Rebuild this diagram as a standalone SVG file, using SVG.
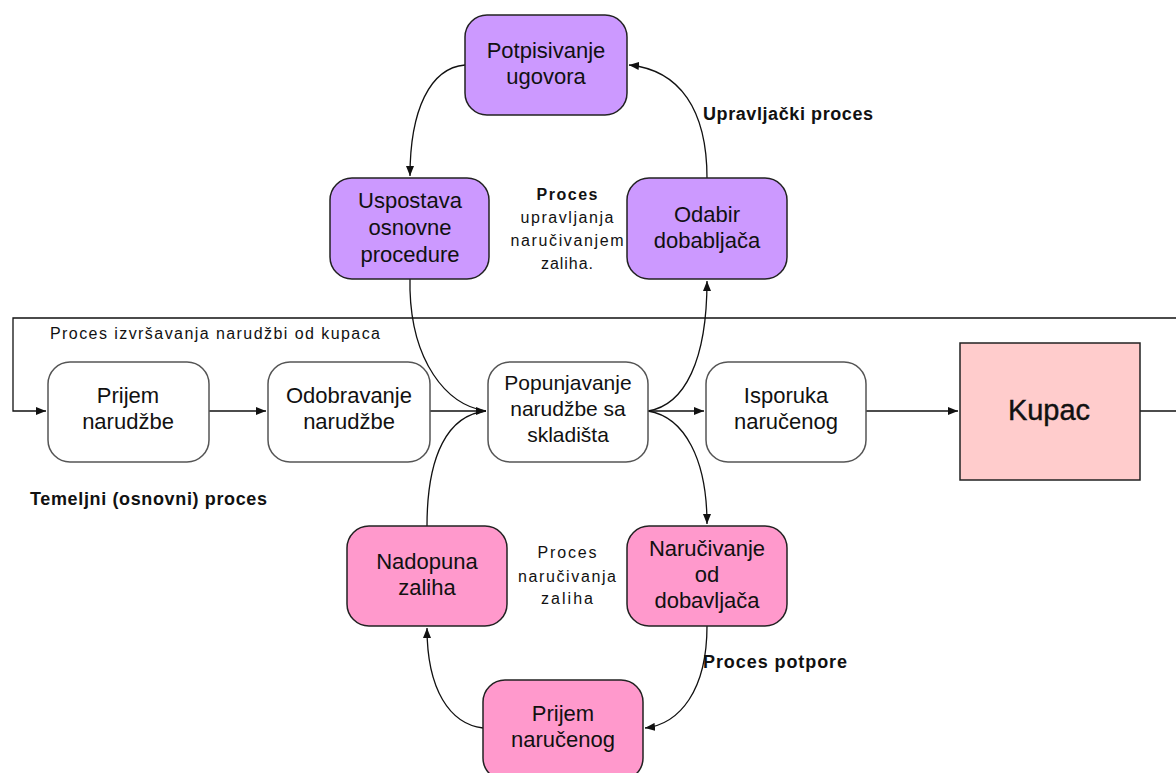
<svg xmlns="http://www.w3.org/2000/svg" width="1176" height="773" viewBox="0 0 1176 773">
<defs>
<style>
.n{stroke:#222;stroke-width:1.5}
.w{fill:#fff;stroke:#555;stroke-width:1.5}
.pu{fill:#cc99ff}
.pk{fill:#ff99cc}
.t{font-family:"Liberation Sans",Arial,sans-serif;font-size:22px;fill:#111;text-anchor:middle}
.l{font-family:"Liberation Sans",Arial,sans-serif;font-size:16px;fill:#111;text-anchor:middle}
.b{font-family:"Liberation Sans",Arial,sans-serif;font-size:18px;font-weight:bold;fill:#111}
.c{fill:none;stroke:#111;stroke-width:1.3}
</style>
<marker id="ar" viewBox="0 0 10 8" refX="10" refY="4" markerWidth="10" markerHeight="8" markerUnits="userSpaceOnUse" orient="auto">
<path d="M0,0 L10,4 L0,8 z" fill="#111"/>
</marker>
</defs>
<rect width="1176" height="773" fill="#fff"/>

<g id="connectors">
<path class="c" d="M1176,318 L13,318 L13,411 L46,411" marker-end="url(#ar)"/>
<path class="c" d="M209,411 L266,411" marker-end="url(#ar)"/>
<path class="c" d="M430,411 L486,411" marker-end="url(#ar)"/>
<path class="c" d="M410,279 L410,290 C412,360 445,405 486,411"/>
<path class="c" d="M427,526 C427,455 448,415 486,411"/>
<path class="c" d="M648,411 L704,411" marker-end="url(#ar)"/>
<path class="c" d="M866,411 L958,411" marker-end="url(#ar)"/>
<path class="c" d="M1140,411 L1176,411"/>
<path class="c" d="M648,411 C685,405 707,360 707,281" marker-end="url(#ar)"/>
<path class="c" d="M648,411 C685,417 707,460 707,524" marker-end="url(#ar)"/>
<path class="c" d="M707,178 C707,110 680,70 629,65" marker-end="url(#ar)"/>
<path class="c" d="M465,65 C430,68 410,110 410,176" marker-end="url(#ar)"/>
<path class="c" d="M707,626 C707,690 680,724 645,728" marker-end="url(#ar)"/>
<path class="c" d="M483,728 C450,724 427,690 427,628" marker-end="url(#ar)"/>
</g>

<g id="potpisivanje">
<rect class="n pu" x="465" y="15" width="162" height="100" rx="22"/>
<text class="t" x="546" y="58">Potpisivanje</text>
<text class="t" x="546" y="84">ugovora</text>
</g>
<g id="uspostava">
<rect class="n pu" x="330" y="178" width="159" height="101" rx="22"/>
<text class="t" x="410" y="208">Uspostava</text>
<text class="t" x="410" y="235">osnovne</text>
<text class="t" x="410" y="262">procedure</text>
</g>
<g id="odabir">
<rect class="n pu" x="627" y="178" width="160" height="101" rx="22"/>
<text class="t" x="707" y="222">Odabir</text>
<text class="t" x="707" y="248">dobabljača</text>
</g>
<g id="prijem-narudzbe">
<rect class="w" x="48" y="362" width="161" height="100" rx="22"/>
<text class="t" x="128" y="403">Prijem</text>
<text class="t" x="128" y="429">narudžbe</text>
</g>
<g id="odobravanje">
<rect class="w" x="268" y="362" width="162" height="100" rx="22"/>
<text class="t" x="349" y="403">Odobravanje</text>
<text class="t" x="349" y="429">narudžbe</text>
</g>
<g id="popunjavanje">
<rect class="w" x="488" y="362" width="160" height="100" rx="22"/>
<text class="t" x="568" y="390" style="font-size:21px">Popunjavanje</text>
<text class="t" x="568" y="416" style="font-size:21px">narudžbe sa</text>
<text class="t" x="568" y="442" style="font-size:21px">skladišta</text>
</g>
<g id="isporuka">
<rect class="w" x="706" y="362" width="160" height="100" rx="22"/>
<text class="t" x="786" y="403">Isporuka</text>
<text class="t" x="786" y="429">naručenog</text>
</g>
<g id="kupac">
<rect class="n" fill="#ffcccc" x="960" y="343" width="180" height="137"/>
<text class="t" x="1049" y="420" style="font-size:29px;stroke:#111;stroke-width:0.4">Kupac</text>
</g>
<g id="nadopuna">
<rect class="n pk" x="347" y="526" width="160" height="100" rx="22"/>
<text class="t" x="427" y="569">Nadopuna</text>
<text class="t" x="427" y="595">zaliha</text>
</g>
<g id="narucivanje">
<rect class="n pk" x="627" y="526" width="160" height="100" rx="22"/>
<text class="t" x="707" y="556">Naručivanje</text>
<text class="t" x="707" y="582">od</text>
<text class="t" x="707" y="608">dobavljača</text>
</g>
<g id="prijem-narucenog">
<rect class="n pk" x="483" y="680" width="160" height="100" rx="22"/>
<text class="t" x="563" y="721">Prijem</text>
<text class="t" x="563" y="747">naručenog</text>
</g>

<g id="labels">
<text class="b" x="703" y="120" textLength="170">Upravljački proces</text>
<text class="l" x="567" y="200" style="font-weight:bold" textLength="61">Proces</text>
<text class="l" x="567" y="223" textLength="93">upravljanja</text>
<text class="l" x="567" y="246" textLength="113">naručivanjem</text>
<text class="l" x="567" y="269" textLength="52">zaliha.</text>
<text class="l" x="50" y="339" style="text-anchor:start" textLength="330">Proces izvršavanja narudžbi od kupaca</text>
<text class="b" x="30" y="505" textLength="237">Temeljni (osnovni) proces</text>
<text class="l" x="567" y="558" textLength="59">Proces</text>
<text class="l" x="567" y="582" textLength="98">naručivanja</text>
<text class="l" x="567" y="604" textLength="52">zaliha</text>
<text class="b" x="703" y="668" textLength="144">Proces potpore</text>
</g>
</svg>
